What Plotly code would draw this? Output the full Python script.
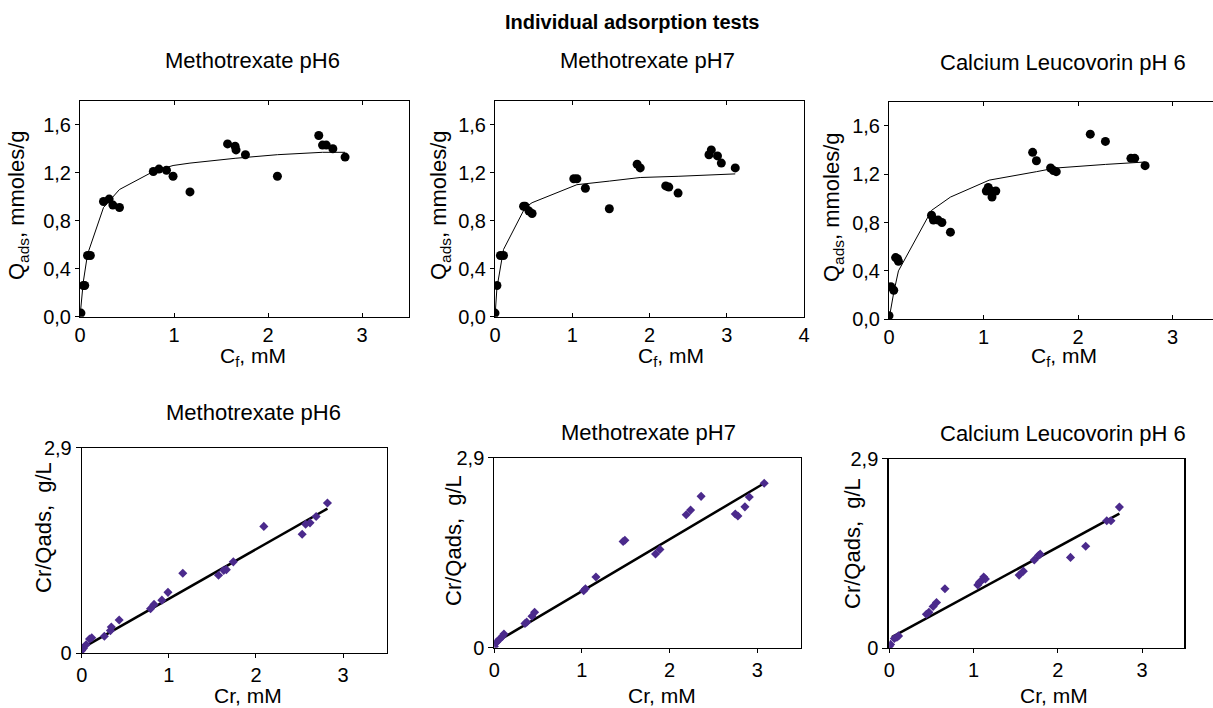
import plotly.graph_objects as go

W, H = 1213, 708
FONT = "Liberation Sans, Arial, sans-serif"

# ---------------- Data: top row (adsorption isotherms) ----------------
mtx6_cf = [0.01, 0.035, 0.05, 0.08, 0.11, 0.25, 0.31, 0.35, 0.42, 0.78, 0.84, 0.92, 0.99, 1.17,
           1.57, 1.65, 1.66, 1.76, 2.10, 2.54, 2.58, 2.62, 2.69, 2.82]
mtx6_q = [0.03, 0.26, 0.26, 0.51, 0.51, 0.96, 0.98, 0.93, 0.91, 1.21, 1.23, 1.22, 1.17, 1.04,
          1.44, 1.42, 1.39, 1.35, 1.17, 1.51, 1.43, 1.43, 1.40, 1.33]
mtx6_fit_cf = [0, 0.035, 0.08, 0.25, 0.42, 0.78, 0.99, 1.17, 1.65, 2.10, 2.58, 2.82]
mtx6_fit_q = [0, 0.29, 0.52, 0.91, 1.06, 1.21, 1.26, 1.28, 1.32, 1.35, 1.37, 1.37]

mtx7_cf = [0.0, 0.025, 0.07, 0.11, 0.37, 0.39, 0.44, 0.48, 1.02, 1.06, 1.17, 1.48, 1.84, 1.88,
           2.21, 2.25, 2.37, 2.77, 2.80, 2.88, 2.93, 3.11]
mtx7_q = [0.03, 0.26, 0.51, 0.51, 0.92, 0.92, 0.88, 0.86, 1.15, 1.15, 1.07, 0.90, 1.27, 1.24,
          1.09, 1.08, 1.03, 1.35, 1.39, 1.34, 1.28, 1.24]
mtx7_fit_cf = [0, 0.025, 0.11, 0.39, 0.48, 1.06, 1.48, 1.88, 2.37, 2.80, 3.11]
mtx7_fit_q = [0, 0.24, 0.56, 0.91, 0.95, 1.10, 1.13, 1.16, 1.17, 1.18, 1.19]

leu6_cf = [0.0, 0.02, 0.05, 0.07, 0.09, 0.10, 0.45, 0.47, 0.52, 0.56, 0.65, 1.03, 1.05, 1.08,
           1.09, 1.13, 1.52, 1.56, 1.71, 1.74, 1.77, 2.13, 2.29, 2.56, 2.60, 2.71]
leu6_q = [0.03, 0.27, 0.24, 0.51, 0.50, 0.48, 0.86, 0.82, 0.82, 0.80, 0.72, 1.06, 1.09, 1.06,
          1.01, 1.06, 1.38, 1.31, 1.25, 1.23, 1.22, 1.53, 1.47, 1.33, 1.33, 1.27]
leu6_fit_cf = [0, 0.02, 0.05, 0.10, 0.45, 0.65, 1.06, 1.56, 1.76, 2.29, 2.71]
leu6_fit_q = [0, 0.10, 0.22, 0.40, 0.90, 1.01, 1.15, 1.22, 1.25, 1.28, 1.30]

# ---------------- Data: bottom row (linearised Langmuir) ----------------
lin6_cr = [0.0, 0.02, 0.05, 0.09, 0.115, 0.26, 0.33, 0.34, 0.43, 0.79, 0.83, 0.92, 0.99, 1.16,
           1.57, 1.63, 1.66, 1.74, 2.09, 2.53, 2.57, 2.62, 2.69, 2.82]
lin6_ratio = [0.04, 0.07, 0.12, 0.20, 0.22, 0.24, 0.32, 0.37, 0.47, 0.63, 0.69, 0.75, 0.86, 1.13,
              1.10, 1.17, 1.18, 1.29, 1.79, 1.68, 1.82, 1.84, 1.93, 2.12]
lin6_fit_cr = [0.0, 2.82]
lin6_fit_ratio = [0.07, 2.04]

lin7_cr = [0.0, 0.015, 0.03, 0.06, 0.09, 0.11, 0.35, 0.37, 0.43, 0.46, 1.02, 1.04, 1.16, 1.47,
           1.49, 1.84, 1.89, 2.19, 2.24, 2.36, 2.75, 2.78, 2.86, 2.91, 3.08]
lin7_ratio = [0.02, 0.07, 0.09, 0.13, 0.17, 0.21, 0.37, 0.39, 0.48, 0.54, 0.87, 0.90, 1.08, 1.62,
              1.64, 1.43, 1.50, 2.03, 2.10, 2.31, 2.04, 2.01, 2.15, 2.30, 2.51]
lin7_fit_cr = [0.0, 3.08]
lin7_fit_ratio = [0.07, 2.51]

linL_cr = [0.0, 0.015, 0.06, 0.09, 0.11, 0.44, 0.47, 0.52, 0.56, 0.66, 1.05, 1.07, 1.09, 1.12,
           1.14, 1.54, 1.59, 1.72, 1.77, 1.79, 2.15, 2.33, 2.58, 2.63, 2.73]
linL_ratio = [0.03, 0.06, 0.15, 0.17, 0.19, 0.52, 0.55, 0.64, 0.70, 0.91, 0.97, 1.01, 1.03, 1.09,
              1.06, 1.12, 1.18, 1.35, 1.42, 1.44, 1.39, 1.56, 1.95, 1.95, 2.16]
linL_fit_cr = [0.03, 2.73]
linL_fit_ratio = [0.17, 2.06]

# ---------------- Tick labels ----------------
top_y_vals = [0.0, 0.4, 0.8, 1.2, 1.6]
top_y_text = ["0,0", "0,4", "0,8", "1,2", "1,6"]
top_x_vals_a = [0, 1, 2, 3]
top_x_vals_b = [0, 1, 2, 3, 4]
bot_y_vals = [0, 2.9]
bot_y_text = ["0", "2,9"]
bot_x_vals = [0, 1, 2, 3]

titles_top = ["Methotrexate pH6", "Methotrexate pH7", "Calcium Leucovorin pH 6"]
titles_bot = ["Methotrexate pH6", "Methotrexate pH7", "Calcium Leucovorin pH 6"]

DOT = "black"
DIAM = "#4b2a8c"

fig = go.Figure()

def px_x(p):
    return p / W

def px_y(p):
    return 1 - p / H

# panel geometry in pixels: (x0, x1, ytop, ybottom)
panels = [
    (80, 409, 100.7, 316.7),
    (495, 804, 100.7, 316.7),
    (889, 1213, 101.5, 319.3),
    (81.7, 386.7, 447.7, 653.3),
    (494.3, 801, 457.7, 647.7),
    (889.3, 1184.3, 458.7, 648.3),
]
xranges = [[0, 3.5], [0, 4], [0, (1213 - 889) / 94.5], [0, 3.5], [0, 3.5], [0, 3.5]]
yranges = [[0, 1.8], [0, 1.8], [0, 1.8], [0, 2.9], [0, 2.9], [0, 2.9]]

top_sets = [
    (mtx6_cf, mtx6_q, mtx6_fit_cf, mtx6_fit_q),
    (mtx7_cf, mtx7_q, mtx7_fit_cf, mtx7_fit_q),
    (leu6_cf, leu6_q, leu6_fit_cf, leu6_fit_q),
]
bot_sets = [
    (lin6_cr, lin6_ratio, lin6_fit_cr, lin6_fit_ratio),
    (lin7_cr, lin7_ratio, lin7_fit_cr, lin7_fit_ratio),
    (linL_cr, linL_ratio, linL_fit_cr, linL_fit_ratio),
]

for i, (x, y, fx, fy) in enumerate(top_sets):
    n = i + 1
    xa = "x" if n == 1 else f"x{n}"
    ya = "y" if n == 1 else f"y{n}"
    fig.add_trace(go.Scatter(x=fx, y=fy, mode="lines", line=dict(color="black", width=1),
                             xaxis=xa, yaxis=ya, showlegend=False, hoverinfo="skip"))
    fig.add_trace(go.Scatter(x=x, y=y, mode="markers",
                             marker=dict(symbol="circle", size=9, color=DOT),
                             xaxis=xa, yaxis=ya, showlegend=False))

for i, (x, y, fx, fy) in enumerate(bot_sets):
    n = i + 4
    xa = f"x{n}"
    ya = f"y{n}"
    fig.add_trace(go.Scatter(x=fx, y=fy, mode="lines", line=dict(color="black", width=2.5),
                             xaxis=xa, yaxis=ya, showlegend=False, hoverinfo="skip"))
    fig.add_trace(go.Scatter(x=x, y=y, mode="markers",
                             marker=dict(symbol="diamond", size=7, color=DIAM),
                             xaxis=xa, yaxis=ya, showlegend=False))

layout_axes = {}
tickfont = dict(family=FONT, size=20, color="black")
for i, (x0, x1, yt, yb) in enumerate(panels):
    n = i + 1
    xkey = "xaxis" if n == 1 else f"xaxis{n}"
    ykey = "yaxis" if n == 1 else f"yaxis{n}"
    xa_ref = "x" if n == 1 else f"x{n}"
    ya_ref = "y" if n == 1 else f"y{n}"
    top = n <= 3
    common = dict(showgrid=False, zeroline=False, tickfont=tickfont, automargin=False,
                  tickcolor="black", linecolor="black", showline=True)
    if top:
        xticks = top_x_vals_b if n == 2 else top_x_vals_a
        layout_axes[xkey] = dict(
            domain=[px_x(x0), min(1, px_x(x1))], anchor=ya_ref, range=xranges[i],
            tickvals=xticks, ticktext=[str(v) for v in xticks],
            ticks="inside", ticklen=4, linewidth=1, mirror="ticks", **common,
        )
        layout_axes[ykey] = dict(
            domain=[px_y(yb), px_y(yt)], anchor=xa_ref, range=yranges[i],
            tickvals=top_y_vals, ticktext=top_y_text,
            ticks="outside", ticklen=4, linewidth=1, mirror=(n != 3), **common,
        )
    else:
        layout_axes[xkey] = dict(
            domain=[px_x(x0), px_x(x1)], anchor=ya_ref, range=xranges[i],
            tickvals=bot_x_vals, ticktext=[str(v) for v in bot_x_vals],
            ticks="outside", ticklen=4, linewidth=1, mirror=True, **common,
        )
        layout_axes[ykey] = dict(
            domain=[px_y(yb), px_y(yt)], anchor=xa_ref, range=yranges[i],
            tickvals=bot_y_vals, ticktext=bot_y_text,
            ticks="outside", ticklen=5, linewidth=2 if n == 6 else 1, mirror=True, **common,
        )

annotations = []

def ann(text, x, y, size=20, angle=0, bold=False):
    if bold:
        text = f"<b>{text}</b>"
    annotations.append(dict(text=text, x=px_x(x), y=px_y(y), xref="paper", yref="paper",
                            showarrow=False, textangle=angle, xanchor="center", yanchor="middle",
                            font=dict(family=FONT, size=size, color="black")))

ann("Individual adsorption tests", 632, 22, size=20, bold=True)
for t, (cx, cy) in zip(titles_top, [(252, 60), (647, 60), (1063, 63)]):
    ann(t, cx, cy, size=22)
for t, (cx, cy) in zip(titles_bot, [(253, 412), (648, 432), (1063, 433)]):
    ann(t, cx, cy, size=22)

for cx in [253, 671, 1064]:
    ann("C<sub>f</sub>, mM", cx, 357, size=21)
for cx, cy in [(18, 205), (440, 205), (833, 207)]:
    ann("Q<sub>ads</sub>, mmoles/g", cx, cy, size=22, angle=-90)
for cx, cy in [(43, 528), (453, 541), (852, 544)]:
    ann("Cr/Qads,  g/L", cx, cy, size=22, angle=-90)
for cx in [248, 662, 1054]:
    ann("Cr, mM", cx, 695, size=21)

fig.update_layout(
    width=W, height=H, margin=dict(l=0, r=0, t=0, b=0, autoexpand=False),
    paper_bgcolor="white", plot_bgcolor="white",
    font=dict(family=FONT, size=20, color="black"),
    annotations=annotations, showlegend=False,
    **layout_axes,
)

fig.write_html(
    "out.html",
    config={"displayModeBar": False},
    post_script="document.body.style.margin='0px';document.body.style.overflow='hidden';",
)
